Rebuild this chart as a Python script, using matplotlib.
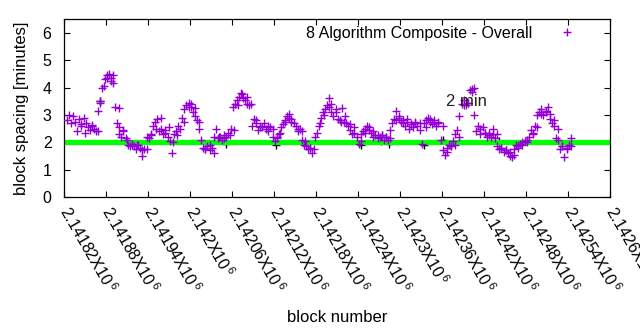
import numpy as np
import matplotlib
matplotlib.use("Agg")
import matplotlib.pyplot as plt

plt.rcParams['font.family'] = ['Liberation Sans', 'DejaVu Sans']
plt.rcParams['mathtext.fontset'] = 'custom'
plt.rcParams['mathtext.rm'] = 'Liberation Sans'
plt.rcParams['mathtext.it'] = 'Liberation Sans'
plt.rcParams['mathtext.bf'] = 'Liberation Sans'

block_start = 2141824
block_step = 3
spacing = [
    2.80, 3.00, 2.70, 2.95, 2.75, 2.40, 2.85, 2.60, 2.90, 2.70,
    2.55, 2.45, 2.60, 2.50, 2.40, 3.15, 3.50, 4.00, 4.30, 4.45,
    4.50, 4.35, 4.15, 3.30, 2.70, 2.30, 2.20, 2.40, 2.15, 1.90,
    1.85, 1.90,
    1.85, 1.75, 1.90, 1.80, 1.50, 1.75, 2.20, 2.15, 2.30, 2.60,
    2.75, 2.85, 2.40, 2.50, 2.30, 2.45, 2.20, 2.05, 1.60, 2.30,
    2.40, 2.60, 2.50, 2.90, 3.20, 3.35, 3.45, 3.30, 3.10, 2.95,
    2.80, 2.50, 2.10, 1.80,
    1.75, 1.85, 1.70, 1.80, 2.20, 2.50, 2.15, 2.20, 2.10, 2.25,
    2.20, 2.35, 2.50, 3.30, 3.40, 3.55, 3.65, 3.80, 3.60, 3.55,
    3.40, 3.35, 2.60, 2.85, 2.70, 2.45, 2.60, 2.55, 2.70, 2.50,
    2.40, 2.55, 2.20, 2.05,
    2.20, 2.30, 2.55, 2.65, 2.75, 2.95, 3.05, 2.85, 2.70, 2.60,
    2.40, 2.50, 2.10, 1.90, 1.85, 1.75, 1.80, 1.60, 2.20, 2.35,
    2.60, 2.90, 3.10, 3.20, 3.35, 3.60, 3.10, 2.95, 3.20, 2.85,
    2.80, 3.25, 2.75,
    2.70, 2.60, 2.45, 2.30, 2.55, 2.20, 1.95, 2.30, 2.40, 2.50,
    2.60, 2.45, 2.35, 2.20, 2.25, 2.15, 2.20, 2.25, 2.10, 2.20,
    2.10, 2.45, 2.70, 2.85, 3.15, 2.90, 2.75, 2.80, 2.60, 2.75,
    2.50, 2.65, 2.55,
    2.75, 2.60, 2.45, 1.95, 2.70, 2.80, 2.90, 2.75, 2.65, 2.80,
    2.60, 2.70, 2.10, 1.70, 1.55, 1.80, 1.90, 1.85, 2.05, 2.30,
    2.45, 2.95, 3.40, 3.55, 3.35, 3.45, 3.90, 3.95, 3.00, 2.40,
    2.60, 2.30, 2.55,
    2.35, 2.20, 2.35, 2.20, 2.50, 2.15, 1.85, 1.75, 1.80, 1.65,
    1.70, 1.60, 1.50, 1.45, 1.75, 1.90, 1.85, 1.95, 2.00, 2.05,
    2.10, 2.20, 2.45, 2.35, 2.60, 3.00, 3.10, 3.20, 3.00, 3.10,
    3.30, 2.85, 2.70, 2.60, 2.15, 2.10, 1.75, 1.85, 1.45, 1.80,
    1.90, 2.15,
]
blocks = block_start + block_step * np.arange(len(spacing))

# additional scattered points (block offset from block_start, spacing)
extra_offsets = [
    20, 26, 36, 44, 48, 53, 57, 63, 66, 74, 75, 80, 86, 93, 101, 108, 114, 120,
    128, 134, 140, 146, 152, 158, 168, 174, 177, 183, 189, 197, 204, 210, 218,
    224, 233, 239, 245, 251, 257, 263, 270, 276, 288, 294, 300, 305, 312, 318,
    321, 330, 336, 341, 348, 353, 362, 368, 374, 377, 384, 392, 398, 405, 411,
    420, 426, 432, 438, 444, 450, 456, 462, 471, 474, 480, 486, 492, 498, 504,
    513, 519, 525, 531, 537, 543, 549, 555, 561, 567, 573, 579, 582, 591, 597,
    603, 609, 615, 621, 627, 633, 639, 645, 651, 657, 666, 672, 678, 684, 690,
    696, 702, 708, 714, 720,
]
extra_spacing = [
    2.65, 2.35, 2.62, 2.42, 3.45, 4.05, 4.35, 4.25, 4.45, 3.25, 2.55, 2.45, 2.10,
    1.95, 1.90, 1.70, 1.75, 2.25, 2.50, 2.90, 2.35, 2.55, 2.00, 2.25, 2.75, 3.30,
    3.40, 3.25, 2.75, 1.75, 1.90, 1.60, 2.20, 2.15, 2.25, 2.45, 3.35, 3.75, 3.65,
    3.40, 2.80, 2.55, 2.60, 2.50, 2.15, 2.35, 2.80, 2.90, 2.75, 2.50, 2.40, 2.05,
    1.80, 1.75, 2.70, 3.00, 3.30, 3.40, 3.10, 2.75, 2.95, 2.65, 2.35, 2.05, 2.35,
    2.55, 2.40, 2.25, 2.25, 2.20, 2.15, 2.80, 2.95, 2.70, 2.85, 2.65, 2.70, 2.70,
    2.55, 2.85, 2.70, 2.75, 2.60, 1.65, 1.85, 1.90, 2.20, 3.35, 3.45, 3.85, 4.00,
    2.50, 2.35, 2.25, 2.30, 2.30, 1.80, 1.70, 1.65, 1.55, 1.80, 1.90, 2.00, 2.30,
    2.55, 3.05, 3.15, 3.05, 2.80, 2.50, 1.85, 1.75, 1.85,
]
extra_blocks = block_start + np.array(extra_offsets)

# faint black series, mostly hidden behind the purple points and the 2-min line
black_offsets = [47, 227, 299, 420, 449, 461, 511, 537, 618]
black_spacing = [3.50, 1.95, 1.90, 1.90, 2.05, 1.95, 1.90, 2.10, 2.05]
black_blocks = block_start + np.array(black_offsets)

x_min, x_max = 2141820, 2142600
x_ticks = np.arange(2141820, 2142601, 60)
tick_labels = ["%gX10$^{\\,6}$" % (t / 1e6) for t in x_ticks]
y_ticks = [0, 1, 2, 3, 4, 5, 6]
target = 2.0

fig = plt.figure(figsize=(6.4, 3.3), dpi=100)
ax = fig.add_axes([0.1, 0.403, 0.853, 0.539])

purple = '#9400d3'
ax.plot(black_blocks, black_spacing, linestyle='none', marker='+', color='black',
        markersize=5.5, markeredgewidth=1.0, zorder=1)
ax.plot(blocks, spacing, linestyle='none', marker='+', color=purple,
        markersize=5.5, markeredgewidth=1.0, label='8 Algorithm Composite - Overall', zorder=3)
ax.plot(extra_blocks, extra_spacing, linestyle='none', marker='+', color=purple,
        markersize=5.5, markeredgewidth=1.0, zorder=3)
ax.plot([x_min, x_max], [target, target], color='#00ff00', linewidth=3.8, zorder=2)
ax.text(2142366, 3.5, '2 min', fontsize=12, ha='left', va='center', color='#202020', zorder=4)

ax.set_xlim(x_min, x_max)
ax.set_ylim(0, 6.5)
ax.set_xticks(x_ticks)
ax.set_xticklabels(tick_labels, rotation=-60, ha='left', va='center', rotation_mode='anchor', fontsize=11.5)
ax.set_yticks(y_ticks)
ax.tick_params(axis='both', direction='in', length=4.5, width=0.8, top=True, right=True, labelsize=11.5)
ax.tick_params(axis='x', pad=8)
ax.tick_params(axis='y', pad=9)
ax.set_ylabel('block spacing [minutes]', fontsize=12, labelpad=10)
ax.set_xlabel('block number', fontsize=12, labelpad=10)
for s in ax.spines.values():
    s.set_linewidth(0.9)

leg = ax.legend(loc='center right', bbox_to_anchor=(0.943, 0.921), frameon=False,
                markerfirst=False, fontsize=11.5, handlelength=1.5, borderpad=0,
                borderaxespad=0, handletextpad=1.4)

fig.savefig('out.png', dpi=100)
